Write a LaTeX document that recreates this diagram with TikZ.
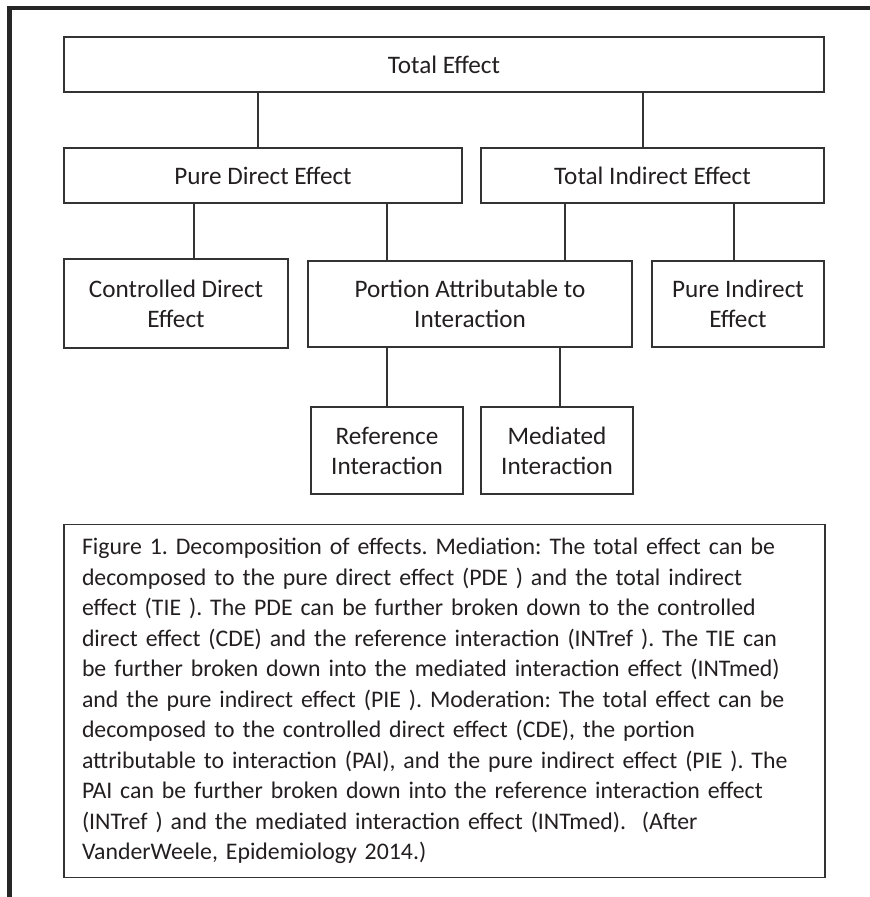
\documentclass[tikz,border=0pt]{standalone}
\usepackage{fontspec}
\setmainfont{Carlito}
\usetikzlibrary{positioning}
\definecolor{inkgray}{HTML}{231F20}
\definecolor{linegray}{HTML}{333333}
\tikzset{
    every picture/.style={x=1pt,y=-1pt},
    effect/.style={draw=linegray,line width=1.1pt,rectangle,align=center,text=inkgray,inner sep=0pt,font=\fontsize{25.2}{30}\selectfont},
    link/.style={draw=linegray,line width=1.1pt},
}
\frenchspacing

\begin{document}
\begin{tikzpicture}
\useasboundingbox (0,0) rectangle (870,897);
\draw[line width=4.5pt,draw=black!85] (9.7,897) -- (9.7,8) -- (870,8);

\node[effect,minimum width=760,minimum height=55] (te) at (444,64.5) {Total Effect};
\node[effect,minimum width=398,minimum height=55] (pde) at (263,175.5) {Pure Direct Effect};
\node[effect,minimum width=343,minimum height=55] (tie) at (652.5,175.5) {Total Indirect Effect};
\node[effect,minimum width=224,minimum height=89] (cde) at (176,303.5) {Controlled Direct\\Effect};
\node[effect,minimum width=324,minimum height=86] (pai) at (470,304) {Portion Attributable to\\Interaction};
\node[effect,minimum width=172,minimum height=86] (pie) at (738,304) {Pure Indirect\\Effect};
\node[effect,minimum width=152,minimum height=87] (ri) at (387,450.5) {Reference\\Interaction};
\node[effect,minimum width=152,minimum height=87] (mi) at (557,450.5) {Mediated\\Interaction};

\node[effect,align=left,text width=725,minimum width=761,minimum height=353,inner xsep=18,font=\fontsize{23.8}{30.5}\selectfont] (cap) at (444.5,701) {Figure 1. Decomposition of effects. Mediation: The total effect can be\\
decomposed to the pure direct effect (PDE ) and the total indirect\\
effect (TIE ). The PDE can be further broken down to the controlled\\
direct effect (CDE) and the reference interaction (INTref ). The TIE can\\
be further broken down into the mediated interaction effect (INTmed)\\
and the pure indirect effect (PIE ). Moderation: The total effect can be\\
decomposed to the controlled direct effect (CDE), the portion\\
attributable to interaction (PAI), and the pure indirect effect (PIE ). The\\
PAI can be further broken down into the reference interaction effect\\
(INTref ) and the mediated interaction effect (INTmed).\ \ (After\\
VanderWeele, Epidemiology 2014.)};

\draw[link] (te.south -| 258,0) -- (pde.north -| 258,0);
\draw[link] (te.south -| 643,0) -- (tie.north -| 643,0);
\draw[link] (pde.south -| 194,0) -- (cde.north -| 194,0);
\draw[link] (pde.south -| ri.north) -- (pai.north -| ri.north);
\draw[link] (tie.south -| 565,0) -- (pai.north -| 565,0);
\draw[link] (tie.south -| 734,0) -- (pie.north -| 734,0);
\draw[link] (pai.south -| ri.north) -- (ri.north);
\draw[link] (pai.south -| 560,0) -- (mi.north -| 560,0);
\end{tikzpicture}
\end{document}
